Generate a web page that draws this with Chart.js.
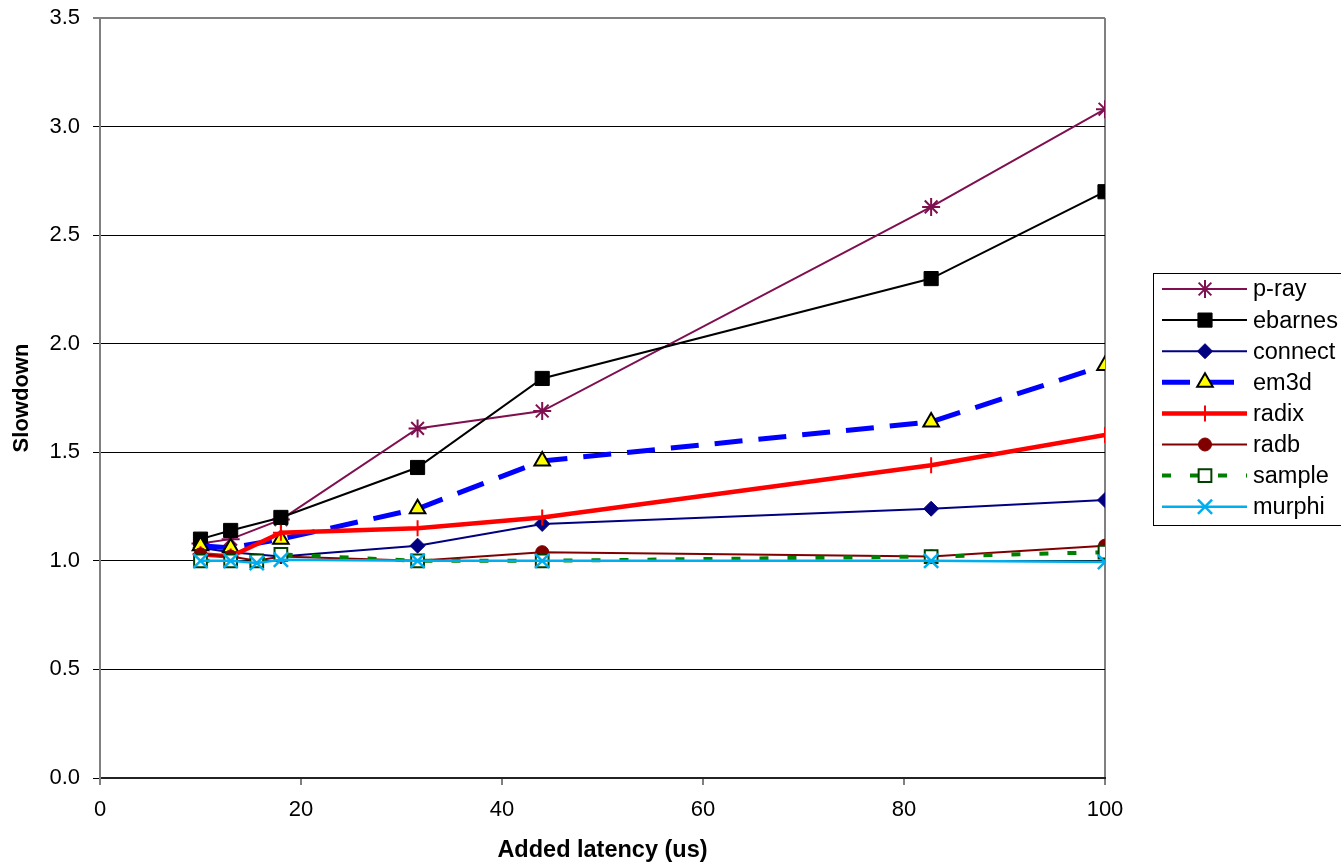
<!DOCTYPE html>
<html>
<head>
<meta charset="utf-8">
<script src="https://cdn.jsdelivr.net/npm/chart.js"></script>
<style>
  body { margin: 0; background: #fff; }
  canvas { display: block; }
</style>
</head>
<body>
<canvas id="slowdown" width="1341" height="865"></canvas>
<script>
// added latency in us, shared x positions (null = no point for that series)
const latency = [10, 13, 15.6, 18, 31.6, 44, 82.7, 100];

const pray    = [1.08, 1.10, null, 1.19, 1.61, 1.69, 2.63, 3.08];
const ebarnes = [1.10, 1.14, null, 1.20, 1.43, 1.84, 2.30, 2.70];
const connect = [1.06, 1.04, null, 1.02, 1.07, 1.17, 1.24, 1.28];
const em3d    = [1.07, 1.06, null, 1.10, 1.24, 1.46, 1.64, 1.90];
const radix   = [1.03, 1.02, null, 1.13, 1.15, 1.20, 1.44, 1.58];
const radb    = [1.03, 1.02, 1.00, 1.02, 1.00, 1.04, 1.02, 1.07];
const sample  = [1.00, 1.00, 1.00, 1.03, 1.00, 1.00, 1.02, 1.04];
const murphi  = [1.00, 1.00, 0.99, 1.005, 1.00, 1.00, 1.00, 0.995];

const yTicks = [0, 0.5, 1.0, 1.5, 2.0, 2.5, 3.0, 3.5];

const FONT = '"Liberation Sans", Arial, sans-serif';

function pts(vals) {
  let out = [];
  for (let i = 0; i < latency.length; i++) {
    if (vals[i] !== null) out.push({x: latency[i], y: vals[i]});
  }
  return out;
}

function series(label, vals, style) {
  return Object.assign({
    label: label,
    data: pts(vals),
    showLine: true,
    fill: false,
    tension: 0,
    borderWidth: 2,
    pointBorderWidth: 2
  }, style);
}

let datasets = [
  series('p-ray', pray, {borderColor: '#7f0f4f', pointStyle: 'star', pointRadius: 9,
    pointBorderColor: '#7f0f4f', pointBackgroundColor: '#7f0f4f', order: 8}),
  series('ebarnes', ebarnes, {borderColor: '#000', pointStyle: 'rect', pointRadius: 10,
    pointBorderColor: '#000', pointBackgroundColor: '#000', pointBorderWidth: 1, order: 7}),
  series('connect', connect, {borderColor: '#000080', pointStyle: 'rectRot', pointRadius: 7.5,
    pointBorderColor: '#000080', pointBackgroundColor: '#000080', pointBorderWidth: 1, order: 6}),
  series('em3d', em3d, {borderColor: '#0000ff', borderWidth: 5, borderDash: [28, 16], pointStyle: 'triangle',
    pointRadius: 9, pointBorderColor: '#000', pointBackgroundColor: '#ffff00', order: 5}),
  series('radix', radix, {borderColor: '#ff0000', borderWidth: 4.5, pointStyle: 'cross', pointRadius: 8,
    pointBorderColor: '#ff0000', pointBackgroundColor: '#ff0000', order: 4}),
  series('radb', radb, {borderColor: '#800000', pointStyle: 'circle', pointRadius: 6.5,
    pointBorderColor: '#800000', pointBackgroundColor: '#800000', pointBorderWidth: 1, order: 3}),
  series('sample', sample, {borderColor: '#008000', borderWidth: 4, borderDash: [9, 19], pointStyle: 'rect',
    pointRadius: 9, pointBorderColor: '#004000', pointBackgroundColor: '#ffffff', order: 2}),
  series('murphi', murphi, {borderColor: '#00aeef', borderWidth: 2.5, pointStyle: 'crossRot', pointRadius: 10,
    pointBorderColor: '#00aeef', pointBackgroundColor: '#00aeef', pointBorderWidth: 2.5, order: 1})
];

// legend box drawn to the right like the original sheet
const boxLegend = {
  id: 'boxLegend',
  afterDraw(chart) {
    const ctx = chart.ctx;
    const left = 1153, top = 273, w = 200, h = 252;
    ctx.save();
    ctx.fillStyle = '#fff';
    ctx.fillRect(left, top, w, h);
    ctx.strokeStyle = '#000';
    ctx.lineWidth = 1;
    ctx.strokeRect(left + 0.5, top + 0.5, w, h);
    ctx.font = '23.5px ' + FONT;
    ctx.textBaseline = 'middle';
    chart.data.datasets.forEach(function(ds, i) {
      const y = 289 + i * 31.1;
      ctx.save();
      ctx.strokeStyle = ds.borderColor;
      ctx.lineWidth = ds.borderWidth;
      ctx.setLineDash(ds.borderDash || []);
      ctx.beginPath();
      ctx.moveTo(1162, y);
      ctx.lineTo(1247, y);
      ctx.stroke();
      ctx.restore();
      ctx.save();
      ctx.strokeStyle = ds.pointBorderColor;
      ctx.fillStyle = ds.pointBackgroundColor;
      ctx.lineWidth = ds.pointBorderWidth;
      if (Chart.helpers && Chart.helpers.drawPoint) {
        Chart.helpers.drawPoint(ctx, {pointStyle: ds.pointStyle, radius: ds.pointRadius,
          rotation: 0, borderWidth: ds.pointBorderWidth}, 1205, y);
      }
      ctx.restore();
      ctx.fillStyle = '#000';
      ctx.fillText(ds.label, 1253, y + 1);
    });
    ctx.restore();
  }
};

new Chart(document.getElementById('slowdown'), {
  type: 'scatter',
  data: { datasets: datasets },
  options: {
    responsive: false,
    animation: false,
    events: [],
    layout: { padding: { top: 18, right: 236, left: 0, bottom: 0 } },
    plugins: {
      legend: { display: false },
      tooltip: { enabled: false }
    },
    scales: {
      x: {
        type: 'linear',
        min: 0,
        max: 100,
        afterFit: function(axis) {
          axis.height = 87;
          axis.paddingLeft = 0;
          axis.paddingRight = 0;
        },
        ticks: {
          stepSize: 20,
          color: '#000',
          padding: 12,
          font: { family: FONT, size: 22 }
        },
        grid: {
          drawOnChartArea: true,
          color: function(c) { return c.tick && c.tick.value === 100 ? '#808080' : 'rgba(0,0,0,0)'; },
          lineWidth: 2,
          tickColor: '#000',
          tickLength: 7,
          tickWidth: 1
        },
        border: { color: '#222', width: 2 },
        title: {
          display: true,
          text: 'Added latency (us)',
          color: '#000',
          padding: { top: 2, bottom: 0 },
          font: { family: FONT, size: 23.5, weight: 'bold' }
        }
      },
      y: {
        min: 0,
        max: 3.5,
        afterFit: function(axis) {
          axis.width = 100;
          axis.paddingTop = 0;
          axis.paddingBottom = 0;
        },
        afterBuildTicks: function(axis) { axis.ticks = yTicks.map(v => ({value: v})); },
        ticks: {
          color: '#000',
          padding: 13,
          font: { family: FONT, size: 22 },
          callback: function(v) { return Number(v).toFixed(1); }
        },
        grid: {
          color: function(c) { return c.tick && c.tick.value === 3.5 ? '#808080' : '#000'; },
          lineWidth: function(c) { return c.tick && c.tick.value === 3.5 ? 2 : 1; },
          tickColor: '#000',
          tickLength: 7,
          tickWidth: 1
        },
        border: { color: '#808080', width: 2 },
        title: {
          display: true,
          text: 'Slowdown',
          color: '#000',
          padding: { top: 9, bottom: 4 },
          font: { family: FONT, size: 22, weight: 'bold' }
        }
      }
    }
  },
  plugins: [boxLegend]
});
</script>
</body>
</html>
